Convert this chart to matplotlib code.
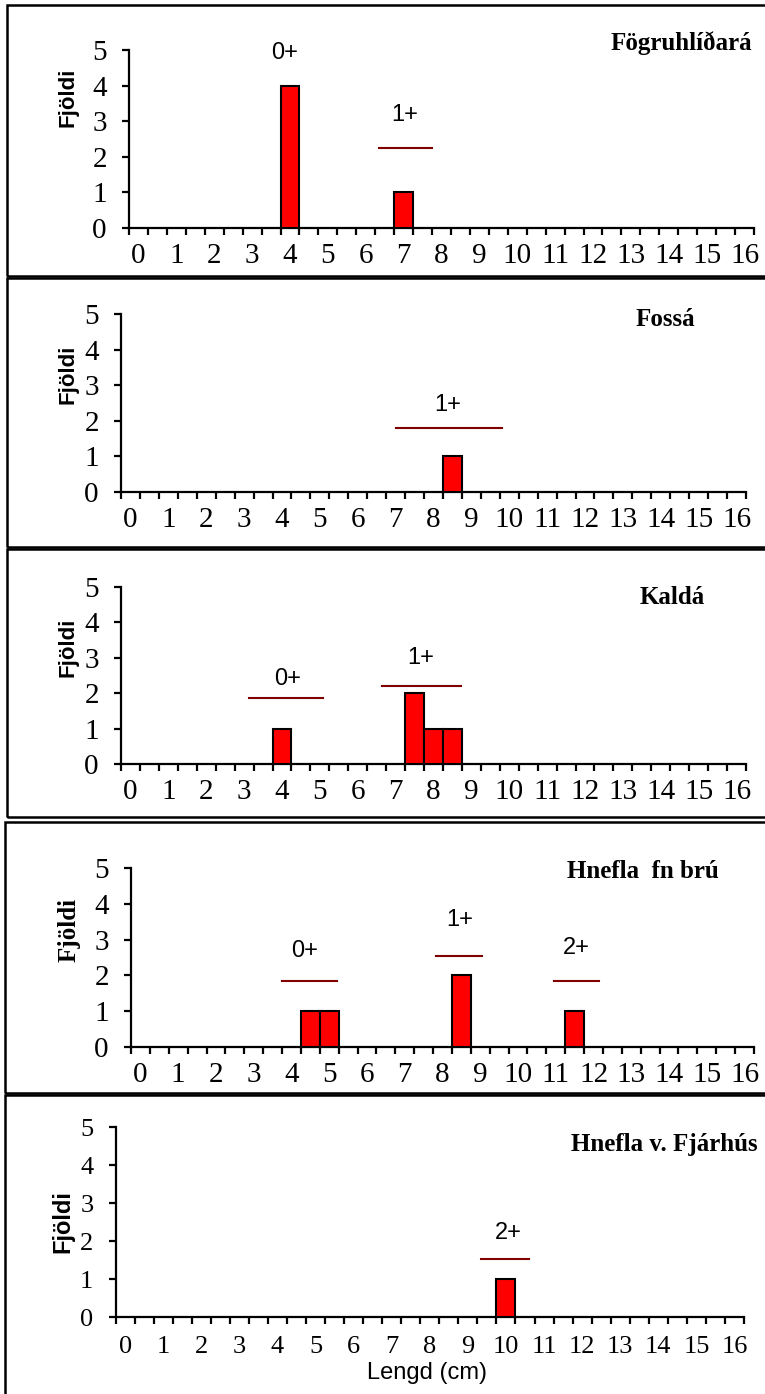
import numpy as np
import matplotlib
matplotlib.use("Agg")
import matplotlib.pyplot as plt
from matplotlib.patches import Rectangle

W, H = 765, 1394
SERIF = "Liberation Serif"
SANS = "Liberation Sans"

# bar data: length class (cm) and number of fish
fogr_len = [4, 7]
fogr_n = [4, 1]
fossa_len = [8.5]
fossa_n = [1]
kalda_len = [4, 7.5, 8, 8.5]
kalda_n = [1, 2, 1, 1]
hbru_len = [4.5, 5, 8.5, 11.5]
hbru_n = [1, 1, 2, 1]
hfjar_len = [10]
hfjar_n = [1]

# age groups: label, line start, line end, line height, label x, label y
fogr_age = [("0+", None, None, None, 4.12, 4.92), ("1+", 6.6, 8.0, 2.25, 7.29, 3.17)]
fossa_age = [("1+", 7.25, 10.05, 1.8, 8.63, 2.44)]
kalda_age = [("0+", 3.38, 5.33, 1.86, 4.4, 2.4), ("1+", 6.9, 8.98, 2.2, 7.9, 3.0)]
hbru_age = [("0+", 4.0, 5.46, 1.84, 4.6, 2.68), ("1+", 8.08, 9.3, 2.54, 8.7, 3.55),
            ("2+", 11.2, 12.4, 1.84, 11.8, 2.77)]
hfjar_age = [("2+", 9.6, 10.85, 1.53, 10.3, 2.2)]

x_labels = [str(i) for i in range(17)]
y_ticks = [0, 1, 2, 3, 4, 5]

panels = [
    # frame and axes are given in pixels (x0, y0, x1, y1) / (left, right, y of 0, y of 5)
    dict(name="Fögruhlíðará", L=fogr_len, N=fogr_n, ages=fogr_age,
         frame=(7, 5, 768, 276), ax=(129, 754, 228, 50), title=(681, 43),
         ylab=(68, 97), ylab_font=SANS, ylab_fs=16, fs=21, xpad=11),
    dict(name="Fossá", L=fossa_len, N=fossa_n, ages=fossa_age,
         frame=(7, 278, 768, 547), ax=(121, 746, 492, 314), title=(665, 320),
         ylab=(68, 374), ylab_font=SANS, ylab_fs=16, fs=21, xpad=11),
    dict(name="Kaldá", L=kalda_len, N=kalda_n, ages=kalda_age,
         frame=(7, 549, 768, 817), ax=(121, 746, 764, 587), title=(672, 597),
         ylab=(68, 647), ylab_font=SANS, ylab_fs=16, fs=21, xpad=11),
    dict(name="Hnefla  fn brú", L=hbru_len, N=hbru_n, ages=hbru_age,
         frame=(5, 822, 768, 1093), ax=(131, 754, 1047, 868), title=(643, 872),
         ylab=(69, 930), ylab_font=SERIF, ylab_fs=18, fs=21, xpad=11),
    dict(name="Hnefla v. Fjárhús", L=hfjar_len, N=hfjar_n, ages=hfjar_age,
         frame=(5, 1095, 770, 1400), ax=(115.6, 744, 1317, 1127), title=(664, 1145),
         ylab=(63, 1222), ylab_font=SANS, ylab_fs=17, fs=19, xpad=14),
]

fig = plt.figure(figsize=(W / 100, H / 100), dpi=100)

for p in panels:
    x0, y0, x1, y1 = p["frame"]
    fig.patches.append(Rectangle((x0 / W, 1 - y1 / H), (x1 - x0) / W, (y1 - y0) / H,
                                 transform=fig.transFigure, fill=False, lw=1.8, ec="black"))
    l, r, b, t = p["ax"]
    ax = fig.add_axes([l / W, 1 - b / H, (r - l) / W, (b - t) / H])
    ax.bar(p["L"], p["N"], width=0.5, align="edge", color="#ff0000",
           edgecolor="black", linewidth=1.5, zorder=3)
    for lab, xs, xe, yl, tx, ty in p["ages"]:
        if xs is not None:
            ax.plot([xs, xe], [yl, yl], color="#800000", lw=1.5, clip_on=False)
        ax.text(tx, ty, lab, ha="center", va="center", fontsize=17,
                family=SANS, clip_on=False)
    ax.set_xlim(0, 16.5)
    ax.set_ylim(0, 5)
    for s in ["top", "right"]:
        ax.spines[s].set_visible(False)
    for s in ["left", "bottom"]:
        ax.spines[s].set_linewidth(1.6)
    ax.set_xticks(np.arange(0, 16.51, 0.5))
    ax.set_xticklabels([])
    ax.set_xticks(np.arange(17) + 0.25, minor=True)
    ax.set_xticklabels(x_labels, minor=True, fontsize=p["fs"], family=SERIF)
    ax.set_yticks(y_ticks)
    ax.set_yticklabels([str(v) for v in y_ticks], fontsize=p["fs"], family=SERIF)
    ax.tick_params(axis="x", which="major", direction="out", length=5, width=1.6)
    ax.tick_params(axis="x", which="minor", length=0, pad=p["xpad"])
    ax.tick_params(axis="y", direction="out", length=5, width=1.6, pad=11)
    fig.text(p["title"][0] / W, 1 - p["title"][1] / H, p["name"], ha="center",
             va="center", fontsize=18, fontweight="bold", family=SERIF)
    fig.text(p["ylab"][0] / W, 1 - p["ylab"][1] / H, "Fjöldi", ha="center",
             va="center", rotation=90, fontsize=p["ylab_fs"], fontweight="bold",
             family=p["ylab_font"])

fig.text(427 / W, 1 - 1373 / H, "Lengd (cm)", ha="center", va="center",
         fontsize=17, family=SANS)

fig.savefig("out.png", dpi=100)
